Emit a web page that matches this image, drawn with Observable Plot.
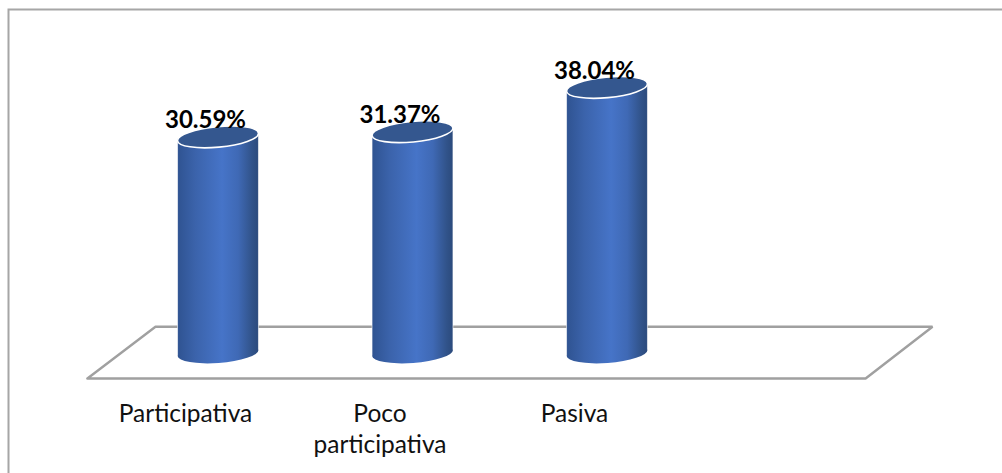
<!DOCTYPE html>
<html><head><meta charset="utf-8">
<style>html,body{margin:0;padding:0;background:#fff}svg{display:block}</style>
<script src="https://cdn.jsdelivr.net/npm/d3@7"></script>
<script src="https://cdn.jsdelivr.net/npm/@observablehq/plot@0.6"></script>
</head><body><div id="chart"></div>
<script>
const categories = ["Participativa", "Poco\nparticipativa", "Pasiva"];
const valueLabels = ["30.59%", "31.37%", "38.04%"];
const values = [30.59, 31.37, 38.04];
const slots = [0, 1, 2];

// Floor parallelogram in data units (slot index, percent below zero is the projected floor)
const floorX = [-0.674, 3.327, 3.671, -0.324, -0.674];
const floorY = [-5.7, -5.7, 2.1, 2.1, -5.7];
const floor = floorX.map((x, i) => ({x, y: floorY[i]}));
const base = -1.9;
const halfWidth = 0.208;

const rows = values.map((v, i) => ({slot: slots[i], value: v, label: valueLabels[i], cat: categories[i]}));

function cylinders(index, {x, y}, channels, dims, context) {
  const g = d3.create("svg:g");
  for (const d of rows) {
    const xl = x(d.slot - halfWidth), xr = x(d.slot + halfWidth);
    const rx = (xr - xl) / 2, ry = 10.2, yt = y(d.value), yb = y(base);
    const dyT = 3.8, dyB = 3;
    const rotT = Math.atan2(dyT, rx) * 180 / Math.PI, rotB = Math.atan2(dyB, rx) * 180 / Math.PI;
    g.append("path")
      .attr("d", `M${xl},${yt + dyT} L${xl},${yb + dyB} A${rx},${ry} ${-rotB} 0 0 ${xr},${yb - dyB} L${xr},${yt - dyT} Z`)
      .attr("fill", "url(#cyl)");
    g.append("path")
      .attr("d", `M${xl},${yt + dyT} L${xl},${yb + dyB} M${xr},${yb - dyB} L${xr},${yt - dyT}`)
      .attr("stroke", "#fff").attr("stroke-opacity", 0.6).attr("stroke-width", 1).attr("fill", "none");
    g.append("path")
      .attr("d", `M${xl},${yt + dyT} A${rx},${ry} ${-rotT} 0 1 ${xr},${yt - dyT} A${rx},${ry} ${-rotT} 0 1 ${xl},${yt + dyT} Z`)
      .attr("fill", "#34578f").attr("stroke", "#fff").attr("stroke-width", 1.6);
  }
  return g.node();
}

const plot = Plot.plot({
  width: 1002, height: 473,
  margin: 0,
  style: {background: "#fff", overflow: "visible"},
  x: {type: "linear", domain: [-1.1208, 4.0308], range: [0, 1002], axis: null},
  y: {type: "linear", domain: [-20.0, 51.2], range: [473, 0], axis: null},
  marks: [
    Plot.line(floor, {x: "x", y: "y", stroke: "#a0a0a0", strokeWidth: 2.4, strokeLinejoin: "miter"}),
    cylinders,
    Plot.text(rows, {x: "slot", y: "value", text: "label", dx: -13, dy: -17,
      fontFamily: "Lato", fontWeight: 700, fontSize: 24, fill: "#000"}),
    Plot.text(rows, {x: "slot", y: () => -8.9, text: "cat", dx: -33, lineAnchor: "top",
      fontFamily: "Lato", fontSize: 24.5, lineHeight: 1.27, fill: "#111"})
  ]
});

const svg = d3.select(plot);
const defs = svg.insert("defs", ":first-child");
const grad = defs.append("linearGradient").attr("id", "cyl").attr("x1", 0).attr("x2", 1).attr("y1", 0).attr("y2", 0);
[[0, "#2f5391"], [0.22, "#3b63ab"], [0.55, "#4674c8"], [0.75, "#3f69b5"], [0.92, "#31538a"], [1, "#2b4a7c"]]
  .forEach(([o, c]) => grad.append("stop").attr("offset", o).attr("stop-color", c));
svg.insert("path", "defs + *").attr("d", "M1002,9.5 H8.5 V473").attr("fill", "none").attr("stroke", "#a6a6a6").attr("stroke-width", 2);
document.getElementById("chart").appendChild(plot);
</script></body></html>
